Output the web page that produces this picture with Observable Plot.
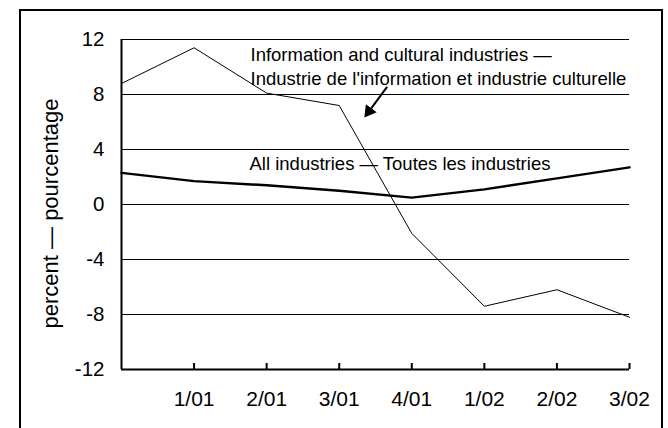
<!DOCTYPE html>
<html>
<head>
<meta charset="utf-8">
<script src="https://cdn.jsdelivr.net/npm/d3@7"></script>
<script src="https://cdn.jsdelivr.net/npm/@observablehq/plot@0.6"></script>
<style>
  html, body { margin: 0; padding: 0; background: #fff; }
  #chart { position: relative; width: 668px; height: 428px; overflow: hidden; }
  #chart svg { display: block; }
  #border { position: absolute; left: 19px; top: 9px; width: 640px; height: 440px; border: 2px solid #000; pointer-events: none; }
</style>
</head>
<body>
<div id="chart"><div id="border"></div></div>
<script>
// Data
const quarters = ["4/00", "1/01", "2/01", "3/01", "4/01", "1/02", "2/02", "3/02"];
const infoValues = [8.8, 11.4, 8.1, 7.2, -2.1, -7.4, -6.2, -8.2];
const allValues = [2.3, 1.7, 1.4, 1.0, 0.5, 1.1, 1.9, 2.7];
const yTicks = [12, 8, 4, 0, -4, -8, -12];
const xTickIndex = [1, 2, 3, 4, 5, 6, 7];
const infoLabel = "Information and cultural industries —\nIndustrie de l'information et industrie culturelle";
const allLabel = "All industries — Toutes les industries";
const yLabel = "percent — pourcentage";
// annotation arrow (tail -> head), in chart units (quarter index, percent)
const arrowShaft = [{x1: 3.66, y1: 8.55, x2: 3.42, y2: 6.85}];
const arrowHead = [{x: 3.41, y: 6.78, angle: 216.5}];

const font = "'Liberation Sans', Arial, sans-serif";

const chart = Plot.plot({
  width: 668,
  height: 428,
  marginLeft: 121,
  marginRight: 39,
  marginTop: 39,
  marginBottom: 59,
  style: {fontFamily: font, background: "transparent", color: "#000"},
  x: {domain: [0, 7], axis: null},
  y: {domain: [-12, 12], axis: null},
  marks: [
    // gridlines
    Plot.ruleY(yTicks.filter(d => d !== -12), {stroke: "#000", strokeWidth: 1}),
    // axes lines
    Plot.ruleY([-12], {stroke: "#000", strokeWidth: 2}),
    Plot.ruleX([0], {stroke: "#000", strokeWidth: 2}),
    // x tick marks (pointing up)
    Plot.ruleX(xTickIndex, {x: d => d, y1: -12, y2: -12, insetBottom: 6, stroke: "#000", strokeWidth: 2}),
    // tick labels
    Plot.axisY({ticks: yTicks, tickSize: 0, tickPadding: 17, fontSize: 20.5, label: null, tickFormat: d => String(d)}),
    Plot.axisX({ticks: xTickIndex, tickSize: 0, tickPadding: 22, fontSize: 21, label: null, tickFormat: i => quarters[i]}),
    // y label
    Plot.text([yLabel], {frameAnchor: "left", dx: -71, dy: 9, rotate: -90, textAnchor: "middle", lineAnchor: "middle", fontSize: 22, fill: "#000"}),
    // series lines
    Plot.line(infoValues, {x: (d, i) => i, y: d => d, stroke: "#000", strokeWidth: 1}),
    Plot.line(allValues, {x: (d, i) => i, y: d => d, stroke: "#000", strokeWidth: 2.5}),
    // annotations
    Plot.text([infoLabel], {frameAnchor: "top-left", dx: 129, dy: 26, textAnchor: "start", lineAnchor: "middle", lineHeight: 1.3, fontSize: 18.5, fill: "#000"}),
    Plot.text([allLabel], {frameAnchor: "top-left", dx: 128, dy: 125, textAnchor: "start", lineAnchor: "middle", fontSize: 18.5, fill: "#000"}),
    Plot.link(arrowShaft, {x1: "x1", y1: "y1", x2: "x2", y2: "y2", stroke: "#000", strokeWidth: 2}),
    Plot.dot(arrowHead, {x: "x", y: "y", symbol: "triangle", r: 5, fill: "#000", stroke: "none", rotate: "angle"})
  ]
});
document.getElementById("chart").appendChild(chart);
</script>
</body>
</html>
